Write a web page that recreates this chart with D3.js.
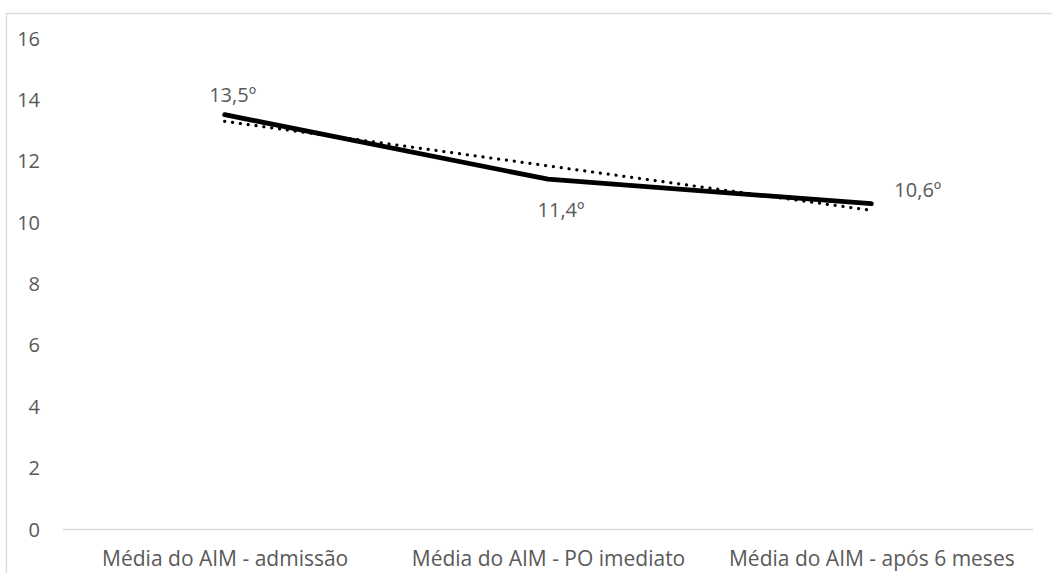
<!DOCTYPE html>
<html>
<head>
<meta charset="utf-8">
<script src="https://cdn.jsdelivr.net/npm/d3@7"></script>
<style>
  html, body { margin: 0; padding: 0; background: #ffffff; }
  svg { display: block; }
  text { font-family: "Open Sans", "Noto Sans", sans-serif; fill: #595959; }
</style>
</head>
<body>
<svg id="chart" width="1052" height="573"></svg>
<script>
// Mean AIM angle at each stage
const categories = ["Média do AIM - admissão", "Média do AIM - PO imediato", "Média do AIM - após 6 meses"];
const values = [13.5, 11.4, 10.6];
const valueLabels = ["13,5º", "11,4º", "10,6º"];
const yTicks = [0, 2, 4, 6, 8, 10, 12, 14, 16];

const svg = d3.select("#chart");
const plot = { left: 63, right: 1033, top: 38, bottom: 529 };

// Outer chart frame (runs past the right and bottom edges)
svg.append("rect")
  .attr("x", 6.5).attr("y", 13.5)
  .attr("width", 1100).attr("height", 700)
  .attr("fill", "none").attr("stroke", "#d9d9d9").attr("stroke-width", 1.3);

const x = d3.scalePoint().domain(categories).range([plot.left, plot.right]).padding(0.5);
const y = d3.scaleLinear().domain([0, 16]).range([plot.bottom, plot.top]);

// Y axis labels (no axis line, no gridlines)
const yAxis = d3.axisLeft(y).tickValues(yTicks).tickSize(0).tickPadding(0).tickFormat(d3.format("d"));
const gy = svg.append("g").attr("transform", "translate(40,0)").call(yAxis);
gy.select(".domain").remove();
gy.selectAll("text").style("font-size", "20px").attr("dy", "0.35em").attr("fill", "#595959");

// X axis with baseline
const xAxis = d3.axisBottom(x).tickSize(0).tickPadding(0);
const gx = svg.append("g").attr("transform", `translate(0,${plot.bottom})`).call(xAxis);
gx.select(".domain").attr("d", `M${plot.left},0.5H${plot.right}`).attr("stroke", "#d9d9d9").attr("stroke-width", 1.5);
gx.selectAll("text").style("font-size", "21px").attr("y", 37).attr("dy", "0").attr("fill", "#595959");

// Linear trend line (least squares over category index)
const n = values.length;
const xs = values.map((_, i) => i + 1);
const mx = d3.mean(xs), my = d3.mean(values);
const slope = d3.sum(xs.map((xi, i) => (xi - mx) * (values[i] - my))) / d3.sum(xs.map(xi => (xi - mx) ** 2));
const intercept = my - slope * mx;
const trend = [1, n].map(xi => ({ c: categories[xi - 1], v: intercept + slope * xi }));

const line = d3.line().x(d => x(d.c)).y(d => y(d.v));

svg.append("path")
  .datum(trend)
  .attr("d", line)
  .attr("fill", "none")
  .attr("stroke", "#000")
  .attr("stroke-width", 3.2)
  .attr("stroke-linecap", "round")
  .attr("stroke-dasharray", "0.1 7.8");

// Data line
const data = categories.map((c, i) => ({ c, v: values[i] }));
svg.append("path")
  .datum(data)
  .attr("d", line)
  .attr("fill", "none")
  .attr("stroke", "#000")
  .attr("stroke-width", 4.8)
  .attr("stroke-linejoin", "round")
  .attr("stroke-linecap", "round");

// Data labels: above, below, right
const labelPos = [
  { dx: 8, dy: -20, anchor: "middle" },
  { dx: 13, dy: 31, anchor: "middle" },
  { dx: 23, dy: -14, anchor: "start" }
];
svg.append("g").selectAll("text")
  .data(data)
  .join("text")
  .attr("x", (d, i) => x(d.c) + labelPos[i].dx)
  .attr("y", (d, i) => y(d.v) + labelPos[i].dy)
  .attr("dy", "0.35em")
  .attr("text-anchor", (d, i) => labelPos[i].anchor)
  .style("font-size", "20px")
  .text((d, i) => valueLabels[i]);
</script>
</body>
</html>
